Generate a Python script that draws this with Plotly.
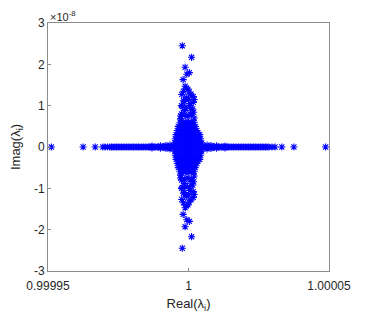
import plotly.graph_objects as go

# Real parts given as offset from 1, in units of 1e-5; imaginary parts in units of 1e-8
arm_re = [-4.88, -3.75, -3.32, -3.05, -2.97, -2.88, -2.80, -2.74, -2.68, -2.62, -2.56, -2.50,
          -2.44, -2.38, -2.32, -2.26, -2.20, -2.14, -2.08, -2.02, -1.96, -1.90, -1.84, -1.78,
          -1.72, -1.66, -1.60, -1.54, -1.48, -1.42, -1.36, -1.30, -1.24, -1.18, -1.12, -1.06,
          -1.00, -0.94, -0.88, -0.82, -0.76, -0.70, -0.64, -0.58,
          0.58, 0.64, 0.70, 0.76, 0.82, 0.88, 0.94, 1.00, 1.06, 1.12, 1.18, 1.24, 1.30, 1.36,
          1.42, 1.48, 1.54, 1.60, 1.66, 1.72, 1.78, 1.84, 1.90, 1.96, 2.02, 2.08, 2.14, 2.20,
          2.26, 2.32, 2.38, 2.44, 2.50, 2.56, 2.62, 2.68, 2.74, 2.80, 2.86, 2.97, 3.08, 3.32,
          3.75, 4.88,
          -1.30, -1.30, -1.00, -1.00, -0.80, -0.80, -0.66, -0.66,
          1.30, 1.30, 1.00, 1.00, 0.80, 0.80, 0.66, 0.66]
arm_im = [0.0] * 44 + [0.0] * 44 + \
         [0.02, -0.02, 0.025, -0.025, 0.035, -0.035, 0.045, -0.045,
          0.02, -0.02, 0.025, -0.025, 0.035, -0.035, 0.045, -0.045]

core_re = [-0.50, -0.40, -0.30, -0.20, -0.10, 0.00, 0.10, 0.20, 0.30, 0.40, 0.48,
           -0.49, -0.39, -0.29, -0.19, -0.09, 0.01, 0.11, 0.21, 0.31, 0.41, 0.47,
           -0.47, -0.37, -0.27, -0.17, -0.07, 0.03, 0.13, 0.23, 0.33, 0.43,
           -0.44, -0.34, -0.24, -0.14, -0.04, 0.06, 0.16, 0.26, 0.36, 0.40,
           -0.40, -0.30, -0.20, -0.10, 0.00, 0.10, 0.20, 0.30,
           -0.36, -0.26, -0.16, -0.06, 0.04, 0.14, 0.24,
           -0.30, -0.20, -0.10, 0.00, 0.10, 0.20,
           -0.49, -0.39, -0.29, -0.19, -0.09, 0.01, 0.11, 0.21, 0.31, 0.41, 0.47,
           -0.47, -0.37, -0.27, -0.17, -0.07, 0.03, 0.13, 0.23, 0.33, 0.43,
           -0.44, -0.34, -0.24, -0.14, -0.04, 0.06, 0.16, 0.26, 0.36, 0.40,
           -0.40, -0.30, -0.20, -0.10, 0.00, 0.10, 0.20, 0.30,
           -0.36, -0.26, -0.16, -0.06, 0.04, 0.14, 0.24,
           -0.30, -0.20, -0.10, 0.00, 0.10, 0.20]
core_im = [0.0] * 11 + [0.1] * 11 + [0.2] * 10 + [0.3] * 10 + [0.4] * 8 + [0.5] * 7 + [0.6] * 6 + \
          [-0.1] * 11 + [-0.2] * 10 + [-0.3] * 10 + [-0.4] * 8 + [-0.5] * 7 + [-0.6] * 6

spike_re = [-0.22, 0.11, -0.12, 0.03, -0.06, -0.19, -0.08, 0.02, -0.24, 0.17,
            -0.18, 0.06, -0.22, 0.08, -0.15, 0.18, -0.25, 0.10, -0.05, 0.20, -0.28,
            -0.28, -0.15, 0.05, 0.15, -0.10, -0.25, 0.04, 0.17, -0.15, 0.00, -0.08,
            0.09, -0.18, -0.02, -0.12, 0.20,
            -0.22, 0.11, -0.12, 0.03, -0.06, -0.19, -0.08, 0.02, -0.24, 0.17,
            -0.18, 0.06, -0.22, 0.08, -0.15, 0.18, -0.25, 0.10, -0.05, 0.20, -0.28,
            -0.28, -0.15, 0.05, 0.15, -0.10, -0.25, 0.04, 0.17, -0.15, 0.00, -0.08,
            0.09, -0.18, -0.02, -0.12, 0.20]
spike_im = [2.45, 2.17, 1.93, 1.80, 1.76, 1.63, 1.42, 1.33, 1.27, 1.22,
            1.12, 1.05, 0.98, 0.93, 0.88, 0.84, 0.80, 0.77, 0.74, 0.70, 0.68,
            0.75, 0.78, 0.80, 0.92, 0.95, 1.00, 1.00, 1.08, 1.10, 1.15, 1.20,
            1.28, 1.35, 1.40, 1.47, 1.15,
            -2.45, -2.17, -1.93, -1.80, -1.76, -1.63, -1.42, -1.33, -1.27, -1.22,
            -1.12, -1.05, -0.98, -0.93, -0.88, -0.84, -0.80, -0.77, -0.74, -0.70, -0.68,
            -0.75, -0.78, -0.80, -0.92, -0.95, -1.00, -1.00, -1.08, -1.10, -1.15, -1.20,
            -1.28, -1.35, -1.40, -1.47, -1.15]

x_ticks = [0.99995, 1.0, 1.00005]
x_ticktext = ["0.99995", "1", "1.00005"]
y_ticks = [-3, -2, -1, 0, 1, 2, 3]

re_off = arm_re + core_re + spike_re
im_all = arm_im + core_im + spike_im
x_vals = [1.0 + v * 1e-5 for v in re_off]

fig = go.Figure()
fig.add_trace(go.Scatter(
    x=x_vals, y=im_all, mode="markers",
    marker=dict(symbol="asterisk-open", size=6, color="#0000ff",
                line=dict(color="#0000ff", width=1.1)),
    showlegend=False, hoverinfo="skip"))

font_fam = "Liberation Sans, Arial"
axis_common = dict(showgrid=False, zeroline=False, showline=True, mirror=True, automargin=False,
                   linecolor="#8c8c8c", linewidth=1, ticks="inside", ticklen=3,
                   tickcolor="#8c8c8c", tickfont=dict(family=font_fam, size=12, color="#262626"))

# page body has an 8px default margin, so the figure is sized to fit the 365x317 window
fig.update_layout(
    width=357, height=309,
    margin=dict(l=40, r=36, t=15, b=46, autoexpand=False),
    paper_bgcolor="white", plot_bgcolor="white",
    xaxis=dict(range=[0.99995, 1.00005], tickvals=x_ticks, ticktext=x_ticktext,
               ticklabelstandoff=4,
               title=dict(text="Real(λ<sub>i</sub>)", standoff=6,
                          font=dict(family=font_fam, size=13, color="#262626")),
               **axis_common),
    yaxis=dict(range=[-3, 3], tickvals=y_ticks, ticktext=[str(v) for v in y_ticks],
               title=dict(text="Imag(λ<sub>i</sub>)", standoff=14,
                          font=dict(family=font_fam, size=13, color="#262626")),
               **axis_common),
    annotations=[dict(text="×10<sup>-8</sup>", xref="paper", yref="paper", x=0, y=1,
                      xanchor="left", yanchor="bottom", yshift=-2, showarrow=False,
                      font=dict(family=font_fam, size=11, color="#262626"))],
)

fig.write_html("out.html")
